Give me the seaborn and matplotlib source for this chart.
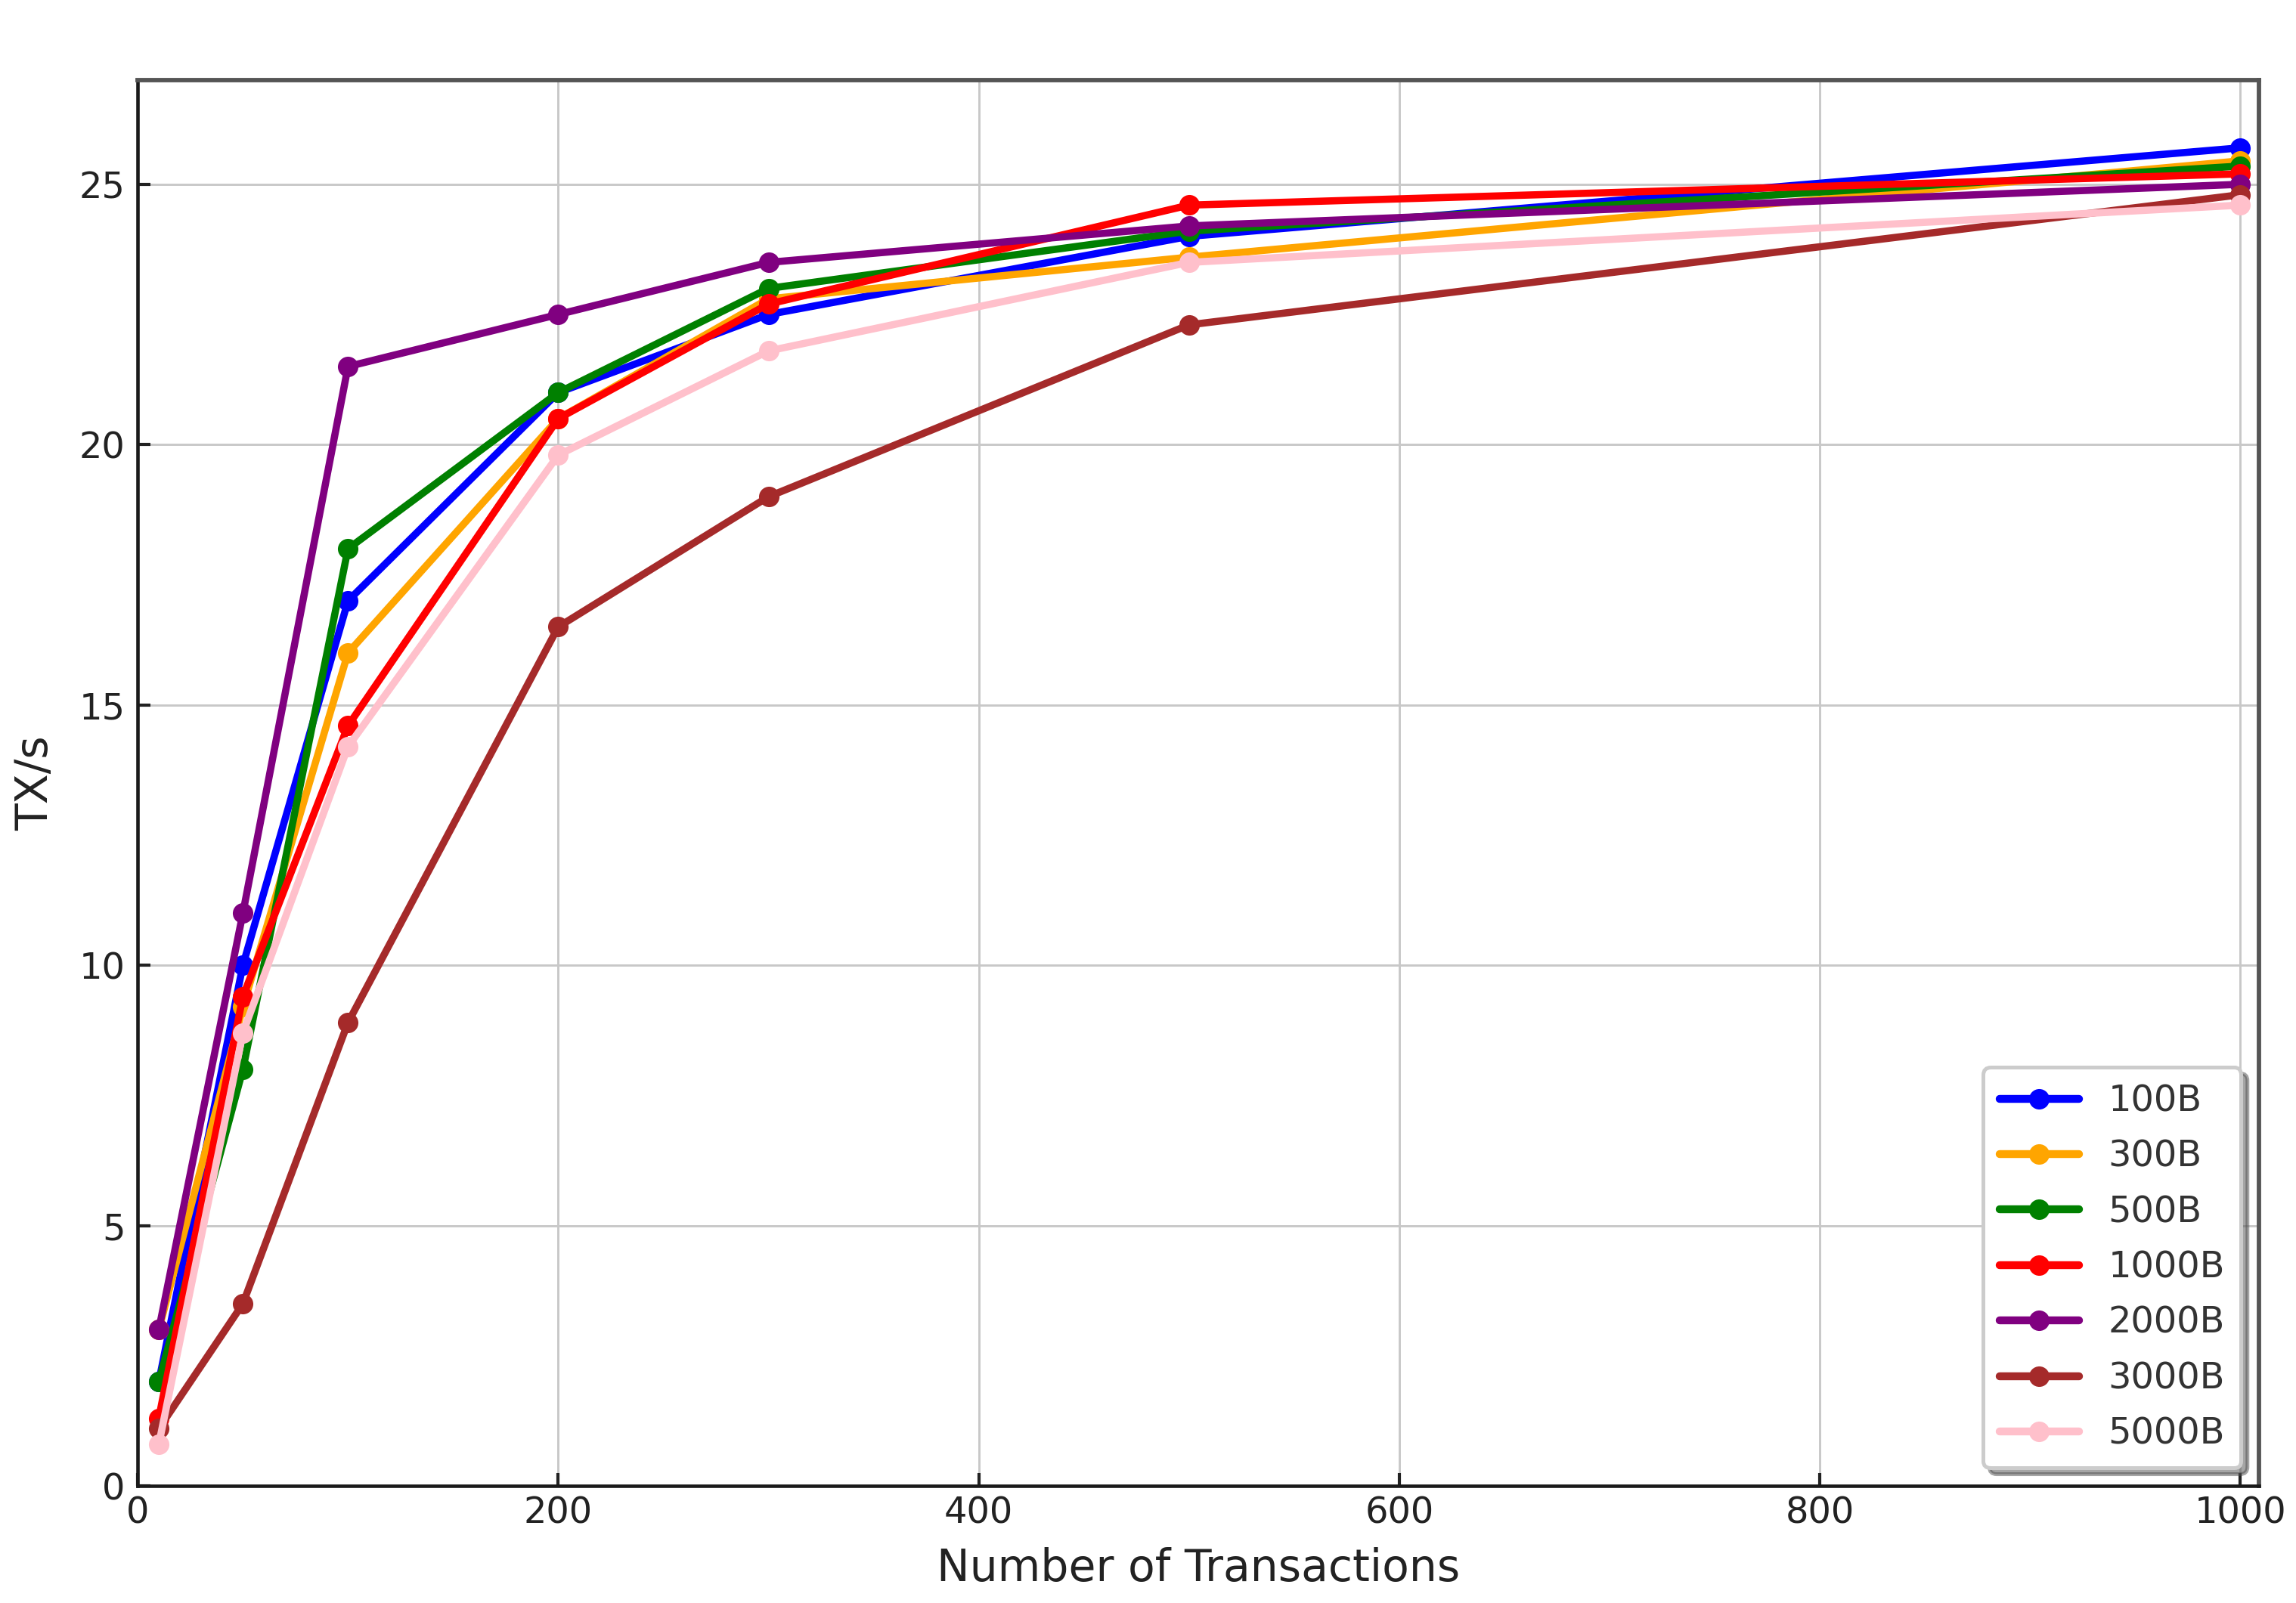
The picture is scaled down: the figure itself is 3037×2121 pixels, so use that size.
import matplotlib
matplotlib.use("Agg")
import matplotlib.pyplot as plt
import seaborn as sns
import pandas as pd

transactions = [10, 50, 100, 200, 300, 500, 1000]
series_names = ["100B", "300B", "500B", "1000B", "2000B", "3000B", "5000B"]
tx_100B = [2.0, 10.0, 17.0, 21.0, 22.5, 24.0, 25.7]
tx_300B = [3.0, 9.2, 16.0, 20.5, 22.8, 23.6, 25.45]
tx_500B = [2.0, 8.0, 18.0, 21.0, 23.0, 24.1, 25.35]
tx_1000B = [1.3, 9.4, 14.6, 20.5, 22.7, 24.6, 25.2]
tx_2000B = [3.0, 11.0, 21.5, 22.5, 23.5, 24.2, 25.0]
tx_3000B = [1.1, 3.5, 8.9, 16.5, 19.0, 22.3, 24.8]
tx_5000B = [0.8, 8.7, 14.2, 19.8, 21.8, 23.5, 24.6]
colors = ["blue", "orange", "green", "red", "purple", "brown", "pink"]

values = [tx_100B, tx_300B, tx_500B, tx_1000B, tx_2000B, tx_3000B, tx_5000B]
rows = []
for name, vals in zip(series_names, values):
    for x, y in zip(transactions, vals):
        rows.append({"Number of Transactions": x, "TX/s": y, "Size": name})
df = pd.DataFrame(rows)

sns.set_style("white")
plt.rcParams["font.family"] = ["DejaVu Sans"]

fig = plt.figure(figsize=(3037 / 300, 2121 / 300), dpi=300)
ax = fig.add_axes([0.060, 0.073, 0.924, 0.877])

sns.lineplot(data=df, x="Number of Transactions", y="TX/s", hue="Size",
             hue_order=series_names, palette=dict(zip(series_names, colors)),
             marker="o", markersize=6.5, markeredgewidth=0, linewidth=2.3,
             ax=ax)

ax.set_xlim(0, 1009)
ax.set_ylim(0, 27)
ax.set_xticks([0, 200, 400, 600, 800, 1000])
ax.set_yticks([0, 5, 10, 15, 20, 25])
ax.grid(True, color="#c8c8c8", linewidth=0.7)
ax.set_axisbelow(True)
ax.tick_params(axis="both", direction="in", length=4, width=1.0,
               labelsize=11.5, colors="#222222",
               bottom=True, left=True, top=False, right=False)
ax.tick_params(axis="x", pad=3)
ax.tick_params(axis="y", pad=4)
ax.set_xlabel("Number of Transactions", fontsize=14, color="#222222", labelpad=5)
ax.set_ylabel("TX/s", fontsize=14, color="#222222", labelpad=7)

for side in ["left", "bottom"]:
    ax.spines[side].set_color("#1a1a1a")
    ax.spines[side].set_linewidth(1.1)
for side in ["top", "right"]:
    ax.spines[side].set_color("#555555")
    ax.spines[side].set_linewidth(1.4)

leg = ax.legend(loc="lower right", fontsize=11.5, frameon=True, fancybox=True,
                shadow=True, framealpha=1.0, borderpad=0.45, labelspacing=0.55,
                handlelength=2.2, handletextpad=0.8, edgecolor="#cccccc")
leg.get_frame().set_linewidth(1.2)
for t in leg.get_texts():
    t.set_color("#333333")
for h in leg.get_lines():
    h.set_linewidth(2.5)

fig.savefig("out.png", dpi=300)
